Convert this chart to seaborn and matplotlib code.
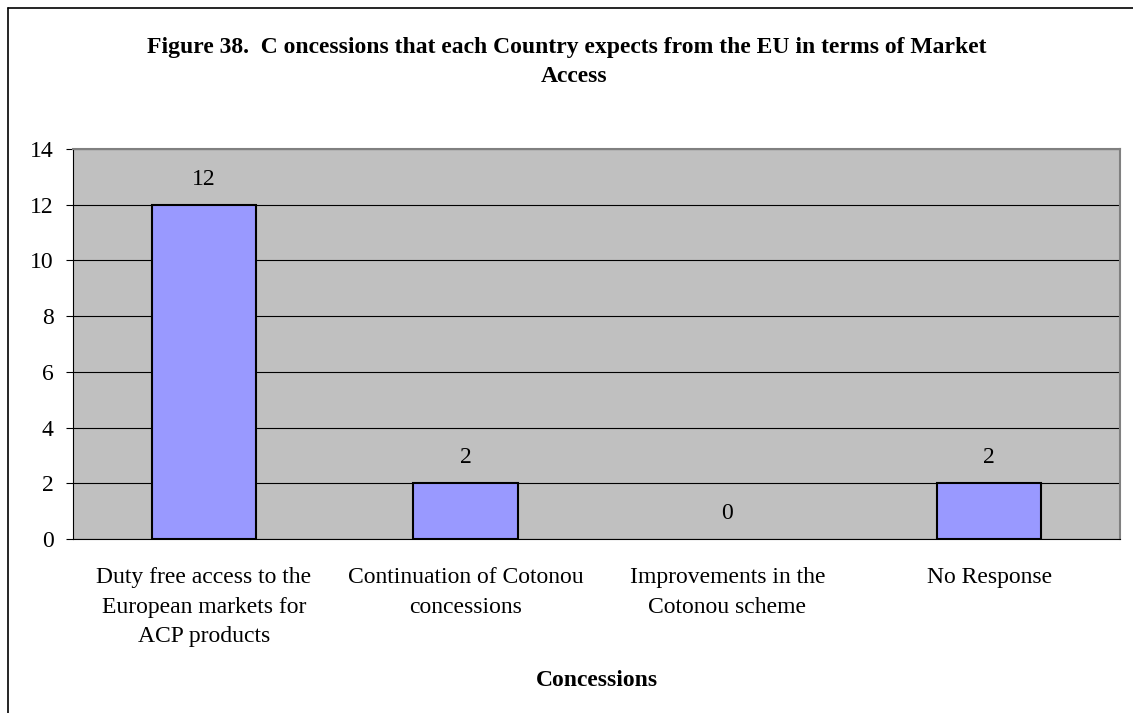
import matplotlib
matplotlib.use("Agg")
import matplotlib.pyplot as plt
import seaborn as sns
import pandas as pd
from matplotlib.lines import Line2D

# data
categories = ["Duty free access to the\nEuropean markets for\nACP products",
              "Continuation of Cotonou\nconcessions",
              "Improvements in the\nCotonou scheme",
              "No Response"]
counts = [12, 2, 0, 2]
y_ticks = [0, 2, 4, 6, 8, 10, 12, 14]

sns.set_style("white")
plt.rcParams['font.family'] = ['Liberation Serif', 'DejaVu Serif']
plt.rcParams['text.color'] = 'black'
plt.rcParams['xtick.color'] = 'black'
plt.rcParams['ytick.color'] = 'black'
plt.rcParams['axes.labelcolor'] = 'black'

df = pd.DataFrame({"Concession": categories, "Count": counts})

fig = plt.figure(figsize=(11.33, 7.13), dpi=100)
ax = fig.add_axes([73 / 1133, (713 - 539) / 713, (1120 - 73) / 1133, (539 - 149) / 713])
ax.set_facecolor("#C0C0C0")

sns.barplot(data=df, x="Concession", y="Count", color="#9999FF", width=0.4,
            edgecolor="black", linewidth=1.5, saturation=1, ax=ax, zorder=3)

# no outline for empty bars
for patch, v in zip(ax.patches, counts):
    if v == 0:
        patch.set_linewidth(0)

# value labels
for i, v in enumerate(counts):
    ax.annotate(str(v), (i, v), xytext=(0, 18.5), textcoords="offset points",
                ha="center", va="center", fontsize=17)

ax.set_ylim(0, 14)
ax.set_xlim(-0.5, 3.5)
ax.set_yticks(y_ticks)
ax.yaxis.grid(True, color="black", linewidth=0.8, zorder=0)
ax.set_axisbelow(True)

# x ticks between categories
ax.set_xticks(range(len(categories)))
ax.set_xticklabels(categories, linespacing=1.55)
ax.set_xticks([-0.5, 0.5, 1.5, 2.5, 3.5], minor=True)
ax.tick_params(axis="x", which="minor", length=6, width=0.8, color="black", direction="out")
ax.tick_params(axis="x", which="major", length=0, pad=20, labelsize=17)
ax.tick_params(axis="y", length=5, width=0.8, color="black", direction="out", pad=9, labelsize=17,
               left=True)

for side in ["top", "right"]:
    ax.spines[side].set_color("#808080")
    ax.spines[side].set_linewidth(1.5)
for side in ["left", "bottom"]:
    ax.spines[side].set_color("black")
    ax.spines[side].set_linewidth(0.8)

ax.set_xlabel("Concessions", fontsize=17, fontweight="bold", labelpad=16)
ax.set_ylabel("")

fig.text(0.5, 1 - 53 / 713, "Figure 38.  C oncessions that each Country expects from the EU in terms of Market",
         ha="center", va="baseline", fontsize=17, fontweight="bold")
fig.text(574 / 1133, 1 - 82 / 713, "Access", ha="center", va="baseline", fontsize=17, fontweight="bold")

# outer chart border (top and left visible)
fig.add_artist(Line2D([8 / 1133, 1.0], [1 - 8 / 713, 1 - 8 / 713], color="black", linewidth=1.2))
fig.add_artist(Line2D([8 / 1133, 8 / 1133], [0, 1 - 8 / 713], color="black", linewidth=1.2))

fig.savefig("out.png", dpi=100)
